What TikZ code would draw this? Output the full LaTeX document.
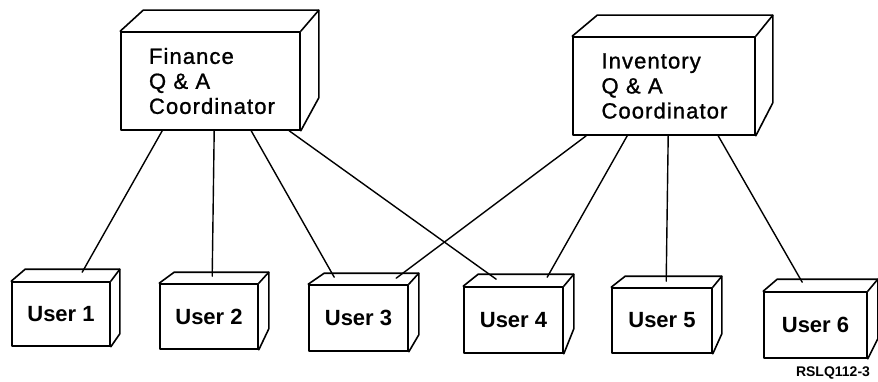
\documentclass[tikz,border=0pt]{standalone}
\usepackage{fontspec}
\setmainfont{Liberation Sans}
\newfontfamily\coordfont[LetterSpace=5, FakeBold=1.2]{Liberation Sans}
\usetikzlibrary{calc}

\tikzset{
  edge/.style={line width=1.6pt, line join=round, line cap=round},
  wire/.style={line width=1.4pt, line cap=round},
  coordbox/.style={edge, draw, rectangle, minimum height=98pt, inner xsep=28pt,
    text width=124pt, align=left, font=\coordfont\fontsize{22}{25}\selectfont},
  userbox/.style={edge, draw, rectangle, minimum width=99pt, minimum height=65pt,
    inner sep=0pt, font=\bfseries\fontsize{22}{26}\selectfont},
  tag/.style={font=\bfseries\fontsize{14}{16}\selectfont, inner sep=0pt}
}

% top and right faces of a box drawn on a front-face node
% #1 node, #2 back-left shift, #3 back-right shift, #4 rise, #5 rise of side bottom
\newcommand\boxfaces[5]{%
  \draw[edge] (#1.north west) -- ++(#2,#4) -- ([shift={(#3,#4)}]#1.north east)
     -- ([shift={(#3,#5)}]#1.south east) -- (#1.south east);
  \draw[edge] (#1.north east) -- ++(#3,#4);
}

\begin{document}
\begin{tikzpicture}[x=1pt, y=-1pt]
\useasboundingbox (0,0) rectangle (878,382);

% coordinators
\node[coordbox, minimum width=179pt, text width=123pt] (fin) at (210.5,81)
  {Finance\\Q \& A\\Coordinator};
\node[coordbox, minimum width=182pt, text width=125pt] (inv) at (664,86)
  {Inventory\\Q \& A\\Coordinator};
\boxfaces{fin}{23}{18}{-21}{-33}
\boxfaces{inv}{25}{17}{-21}{-33}

% users
\node[userbox, minimum width=98pt, minimum height=64pt] (u1) at (61,314) {User 1};
\node[userbox, minimum width=98pt] (u2) at (209,316.5) {User 2};
\node[userbox, minimum height=66pt] (u3) at (358.5,318) {User 3};
\node[userbox, minimum height=66pt] (u4) at (513.5,320) {User 4};
\node[userbox, minimum width=100pt] (u5) at (662,320.5) {User 5};
\node[userbox, minimum width=103pt, minimum height=66pt] (u6) at (815.5,325) {User 6};
\boxfaces{u1}{14}{9}{-12}{-13}
\boxfaces{u2}{15}{10}{-11}{-21}
\boxfaces{u3}{16}{10}{-11}{-17}
\boxfaces{u4}{15}{10}{-12}{-25}
\boxfaces{u5}{14}{9}{-11}{-20}
\boxfaces{u6}{14}{10}{-12}{-20}

% links from the Finance coordinator
\draw[wire] ([xshift=42pt]fin.south west) -- ([shift={(71,-9)}]u1.north west);
\draw[wire] ([xshift=94pt]fin.south west) -- ([shift={(53,-7)}]u2.north west);
\draw[wire] ([xshift=131pt]fin.south west) -- ([shift={(26,-7)}]u3.north west);
\draw[wire] ([xshift=169pt]fin.south west) -- ([shift={(33,-7)}]u4.north west);

% links from the Inventory coordinator
\draw[wire] ([xshift=14pt]inv.south west) -- ([shift={(88,-6)}]u3.north west);
\draw[wire] ([xshift=55pt]inv.south west) -- ([shift={(84,-9)}]u4.north west);
\draw[wire] ([xshift=96pt]inv.south west) -- ([shift={(55,-6)}]u5.north west);
\draw[wire] ([xshift=146pt]inv.south west) -- ([shift={(39,-9)}]u6.north west);

\node[tag] (id) at (833,373) {RSLQ112-3};
\end{tikzpicture}
\end{document}
